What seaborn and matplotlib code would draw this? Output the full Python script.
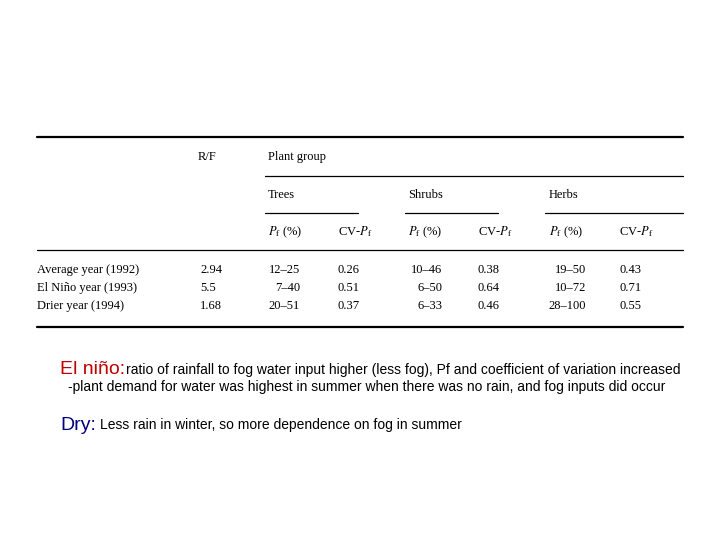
import matplotlib
matplotlib.use("Agg")
import matplotlib.pyplot as plt
import seaborn as sns
from matplotlib.lines import Line2D

sns.set_theme(style="white")
plt.rcParams['mathtext.fontset'] = 'stix'

years = ["Average year (1992)", "El Niño year (1993)", "Drier year (1994)"]
rf = ["2.94", "5.5", "1.68"]
groups = ["Trees", "Shrubs", "Herbs"]
pf_trees = ["12–25", "7–40", "20–51"]
cv_trees = ["0.26", "0.51", "0.37"]
pf_shrubs = ["10–46", "6–50", "6–33"]
cv_shrubs = ["0.38", "0.64", "0.46"]
pf_herbs = ["19–50", "10–72", "28–100"]
cv_herbs = ["0.43", "0.71", "0.55"]

W, H = 720, 540
fig = plt.figure(figsize=(7.2, 5.4), dpi=100)
fig.patch.set_facecolor("white")

def T(x, y, s, ha="left", size=9, family="Liberation Serif", color="black", **kw):
    return fig.text(x / W, 1 - y / H, s, ha=ha, va="center", fontsize=size,
                    family=family, color=color, **kw)

def L(x0, x1, y, lw):
    fig.add_artist(Line2D([x0 / W, x1 / W], [1 - y / H, 1 - y / H], color="black", lw=lw))

L(37, 683, 137, 1.6)
L(265, 683, 176, 0.9)
L(265, 358, 213, 0.9)
L(405, 498, 213, 0.9)
L(545, 683, 213, 0.9)
L(37, 683, 250, 0.9)
L(37, 683, 327, 1.6)

T(198, 157, "R/F")
T(268, 157, "Plant group")
gx = [268, 408, 549]
for g, x in zip(groups, gx):
    T(x, 195, g)
    T(x, 232, r"$P_\mathrm{f}$ (%)")
    T(x + 70, 232, r"CV-$P_\mathrm{f}$")

cols = [(pf_trees, cv_trees), (pf_shrubs, cv_shrubs), (pf_herbs, cv_herbs)]
rights = [300, 442, 586]
ys = [270, 288, 306]
for i, y in enumerate(ys):
    T(37, y, years[i])
    T(200, y, rf[i])
    for (pf, cv), r, x in zip(cols, rights, gx):
        T(r, y, pf[i], ha="right")
        T(x + 70, y, cv[i])

T(60, 370, "El niño:", size=14, family="Liberation Sans", color="#c00000")
T(126, 370, "ratio of rainfall to fog water input higher (less fog), Pf and coefficient of variation increased",
  size=10, family="Liberation Sans")
T(68, 387, "-plant demand for water was highest in summer when there was no rain, and fog inputs did occur",
  size=10, family="Liberation Sans")
T(60, 425, "Dry:", size=14, family="Liberation Sans", color="#000080")
T(100, 425, "Less rain in winter, so more dependence on fog in summer", size=10, family="Liberation Sans")

fig.savefig("out.png", dpi=100, facecolor="white")
